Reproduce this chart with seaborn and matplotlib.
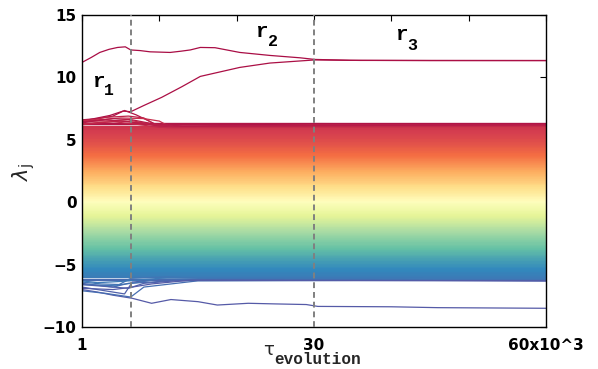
import numpy as np
import pandas as pd
import matplotlib
matplotlib.use("Agg")
import matplotlib.pyplot as plt
import seaborn as sns

# ---------------- data ----------------
tau_ticks = [0, 10, 20, 30, 40, 50, 60]
tau_labels = ["1", "", "", "30", "", "", "60x10^3"]
lam_ticks = [-10, -5, 0, 5, 10, 15]
regime_bounds = [6.3, 30.0]
tau_span = [0, 60]

# bulk eigenvalue trajectories (nearly flat), upper and lower halves
bulk_upper = [0.036, 0.108, 0.181, 0.254, 0.326, 0.398, 0.471, 0.543, 0.616, 0.688,
              0.762, 0.835, 0.908, 0.982, 1.055, 1.128, 1.201, 1.275, 1.350, 1.424,
              1.499, 1.574, 1.648, 1.722, 1.797, 1.872, 1.948, 2.025, 2.102, 2.179,
              2.256, 2.333, 2.410, 2.487, 2.567, 2.647, 2.727, 2.807, 2.888, 2.968,
              3.048, 3.131, 3.216, 3.301, 3.385, 3.470, 3.556, 3.641, 3.730, 3.822,
              3.912, 4.004, 4.094, 4.188, 4.287, 4.386, 4.486, 4.584, 4.689, 4.799,
              4.908, 5.017, 5.137, 5.261, 5.386, 5.523, 5.669, 5.828, 6.005, 6.240]
bulk_lower = [-0.031, -0.112, -0.178, -0.251, -0.329, -0.402, -0.468, -0.547, -0.612, -0.691,
              -0.758, -0.839, -0.905, -0.986, -1.051, -1.132, -1.198, -1.279, -1.346, -1.428,
              -1.495, -1.578, -1.644, -1.726, -1.793, -1.876, -1.944, -2.029, -2.098, -2.183,
              -2.252, -2.337, -2.406, -2.491, -2.563, -2.651, -2.723, -2.811, -2.884, -2.972,
              -3.044, -3.135, -3.212, -3.305, -3.381, -3.474, -3.552, -3.645, -3.726, -3.826,
              -3.908, -4.008, -4.090, -4.192, -4.283, -4.390, -4.482, -4.588, -4.685, -4.803,
              -4.904, -5.021, -5.133, -5.265, -5.382, -5.527, -5.665, -5.832, -6.001, -6.250]

# upper outlier A (starts high, settles at ~11.35)
outA_t = [0, 1.2, 2.3, 3.5, 4.6, 5.6, 6.3, 7.5, 8.8, 11.4, 12.8, 14.0, 15.3, 17.2, 20.4, 24.3, 28.2, 30.1, 34.7, 45, 60]
outA_v = [11.2, 11.6, 12.0, 12.25, 12.4, 12.45, 12.2, 12.15, 12.05, 12.0, 12.1, 12.2, 12.4, 12.38, 12.0, 11.76, 11.57, 11.44, 11.37, 11.35, 11.35]
# upper outlier B (leaves bulk, rises to ~11.35)
outB_t = [0, 2.0, 3.6, 5.3, 6.3, 8.0, 10.3, 12.9, 15.3, 20.4, 24.3, 30.1, 36, 60]
outB_v = [6.5, 6.75, 6.95, 7.3, 7.25, 7.75, 8.4, 9.25, 10.08, 10.8, 11.15, 11.4, 11.36, 11.35]
# lower outlier C (settles at ~-8.5)
outC_t = [0, 2.0, 4.0, 6.5, 9.0, 11.5, 15.0, 17.5, 21.5, 25.0, 29.0, 30.5, 40.0, 46.0, 60.0]
outC_v = [-7.0, -7.2, -7.45, -7.7, -8.1, -7.8, -7.97, -8.24, -8.1, -8.15, -8.2, -8.35, -8.38, -8.45, -8.5]

# edge trajectories of the bulk that fluctuate early on (top fan)
edgeT1_t = [0, 2.0, 4.0, 5.5, 7.0, 9.0, 10.0, 15.0, 30.0, 60.0]
edgeT1_v = [6.6, 6.7, 6.9, 7.35, 7.0, 6.4, 6.1, 6.1, 6.3, 6.25]
edgeT2_t = [0, 3.0, 6.0, 8.0, 9.5, 12.0, 30.0, 60.0]
edgeT2_v = [6.4, 6.8, 6.9, 6.75, 6.2, 6.0, 6.2, 6.18]
edgeT3_t = [0, 2.0, 5.0, 8.0, 10.0, 11.5, 60.0]
edgeT3_v = [6.55, 6.6, 6.75, 6.7, 6.5, 6.0, 6.1]
edgeT4_t = [0, 3.0, 6.0, 9.0, 11.0, 60.0]
edgeT4_v = [6.5, 6.5, 6.6, 6.2, 5.95, 6.08]
edgeT5_t = [0, 4.0, 7.0, 10.0, 60.0]
edgeT5_v = [6.3, 6.45, 6.25, 6.0, 6.12]
edgeT6_t = [0, 2.0, 5.0, 8.0, 12.0, 60.0]
edgeT6_v = [6.2, 6.35, 6.5, 6.35, 6.05, 6.15]
edgeT7_t = [0, 3.0, 6.0, 10.0, 60.0]
edgeT7_v = [6.45, 6.6, 6.45, 6.1, 6.2]
edgeT8_t = [0, 1.5, 4.0, 6.5, 9.0, 13.0, 60.0]
edgeT8_v = [6.35, 6.5, 6.7, 6.6, 6.3, 6.1, 6.22]
# bottom fan
edgeB1_t = [0, 3.0, 5.5, 6.5, 10.0, 20.0, 60.0]
edgeB1_v = [-6.8, -7.1, -7.35, -6.4, -6.2, -6.2, -6.3]
edgeB2_t = [0, 4.0, 6.0, 9.0, 13.0, 60.0]
edgeB2_v = [-6.5, -6.8, -6.5, -6.4, -6.2, -6.27]
edgeB3_t = [0, 3.0, 6.3, 8.0, 15.0, 60.0]
edgeB3_v = [-7.1, -7.3, -7.6, -6.8, -6.3, -6.22]
edgeB4_t = [0, 4.5, 6.3, 11.0, 15.0, 60.0]
edgeB4_v = [-6.6, -6.7, -6.1, -6.0, -6.1, -6.15]
edgeB5_t = [0, 3.0, 6.0, 8.0, 12.0, 20.0, 60.0]
edgeB5_v = [-6.6, -6.75, -6.9, -6.5, -6.3, -6.2, -6.28]
edgeB6_t = [0, 2.5, 5.0, 7.0, 10.0, 60.0]
edgeB6_v = [-6.4, -6.55, -6.6, -6.45, -6.15, -6.2]
edgeB7_t = [0, 4.0, 6.0, 9.0, 14.0, 60.0]
edgeB7_v = [-6.9, -7.0, -6.85, -6.55, -6.25, -6.3]
edgeB8_t = [0, 2.0, 5.0, 8.0, 11.0, 60.0]
edgeB8_v = [-6.3, -6.45, -6.35, -6.2, -6.05, -6.12]

extras = [(outA_t, outA_v), (outB_t, outB_v), (outC_t, outC_v),
          (edgeT1_t, edgeT1_v), (edgeT2_t, edgeT2_v), (edgeT3_t, edgeT3_v), (edgeT4_t, edgeT4_v),
          (edgeT5_t, edgeT5_v), (edgeT6_t, edgeT6_v), (edgeT7_t, edgeT7_v), (edgeT8_t, edgeT8_v),
          (edgeB1_t, edgeB1_v), (edgeB2_t, edgeB2_v), (edgeB3_t, edgeB3_v), (edgeB4_t, edgeB4_v),
          (edgeB5_t, edgeB5_v), (edgeB6_t, edgeB6_v), (edgeB7_t, edgeB7_v), (edgeB8_t, edgeB8_v)]

# ---------------- build long tables ----------------
rows = []
lid = 0
def add(ts, vs, kind):
    global lid
    for t, v in zip(ts, vs):
        rows.append((lid, kind, t, v))
    lid += 1

for v in bulk_upper + bulk_lower:
    add(tau_span, [v, v], "bulk")
for ts, vs in extras:
    add(ts, vs, "edge")

df = pd.DataFrame(rows, columns=["line", "kind", "tau", "lam"])
final = df.groupby("line")["lam"].last().sort_values(ascending=False)
cmap = plt.get_cmap("Spectral")
n = len(final)
palette = {l: cmap(0.02 + 0.96 * i / (n - 1)) for i, l in enumerate(final.index)}

# ---------------- draw ----------------
sns.set_theme(style="white")
plt.rcParams["font.family"] = ["DejaVu Sans"]

fig = plt.figure(figsize=(5.98, 3.69), dpi=100)
ax = fig.add_axes([82 / 598, 1 - 327 / 369, (546 - 82) / 598, (327 - 15) / 369])

bulk = df[df["kind"] == "bulk"]
edge = df[df["kind"] == "edge"]
sns.lineplot(data=bulk, x="tau", y="lam", hue="line",
             palette={k: palette[k] for k in bulk["line"].unique()}, legend=False,
             estimator=None, sort=False, linewidth=1.7, ax=ax)
sns.lineplot(data=edge, x="tau", y="lam", hue="line",
             palette={k: palette[k] for k in edge["line"].unique()}, legend=False,
             estimator=None, sort=False, linewidth=0.9, ax=ax)

for b in regime_bounds:
    ax.axvline(b, color="#808080", linestyle=(0, (3, 2)), linewidth=1.4, zorder=5)

ax.set_xlim(0, 60)
ax.set_ylim(-10, 15)
ax.set_xticks(tau_ticks)
ax.set_xticklabels(tau_labels)
ax.set_yticks(lam_ticks)
ax.tick_params(direction="in", top=True, right=True, length=4, width=0.8,
               labelsize=11, colors="black", pad=4)
ax.tick_params(axis="x", pad=8)
for lab in ax.get_xticklabels() + ax.get_yticklabels():
    lab.set_fontweight("bold")
for s in ax.spines.values():
    s.set_color("black")
    s.set_linewidth(1.0)
ax.set_xlabel("")
ax.set_ylabel("")

# axis labels
fig.text(268.5 / 598, 1 - 355 / 369, "τ", fontsize=13, ha="center", va="baseline")
fig.text(274 / 598, 1 - 364 / 369, "evolution", fontsize=11.5, fontweight="bold",
         family="Liberation Mono", ha="left", va="baseline")
fig.text(24 / 598, 1 - 172 / 369, r"$\lambda_{\rm j}$", fontsize=15, rotation=90,
         ha="center", va="center")

# regime labels
mono = dict(family="Liberation Mono", fontweight="bold", color="black")
for (rx, ry, sx, sy, s) in [(1.3, 9.2, 2.9, 8.56, "1"), (22.4, 13.2, 24.1, 12.48, "2"),
                             (40.5, 12.96, 42.1, 12.16, "3")]:
    ax.text(rx, ry, "r", fontsize=15, ha="left", va="baseline", **mono)
    ax.text(sx, sy, s, fontsize=12, ha="left", va="baseline", **mono)

fig.savefig("out.png", dpi=100)
